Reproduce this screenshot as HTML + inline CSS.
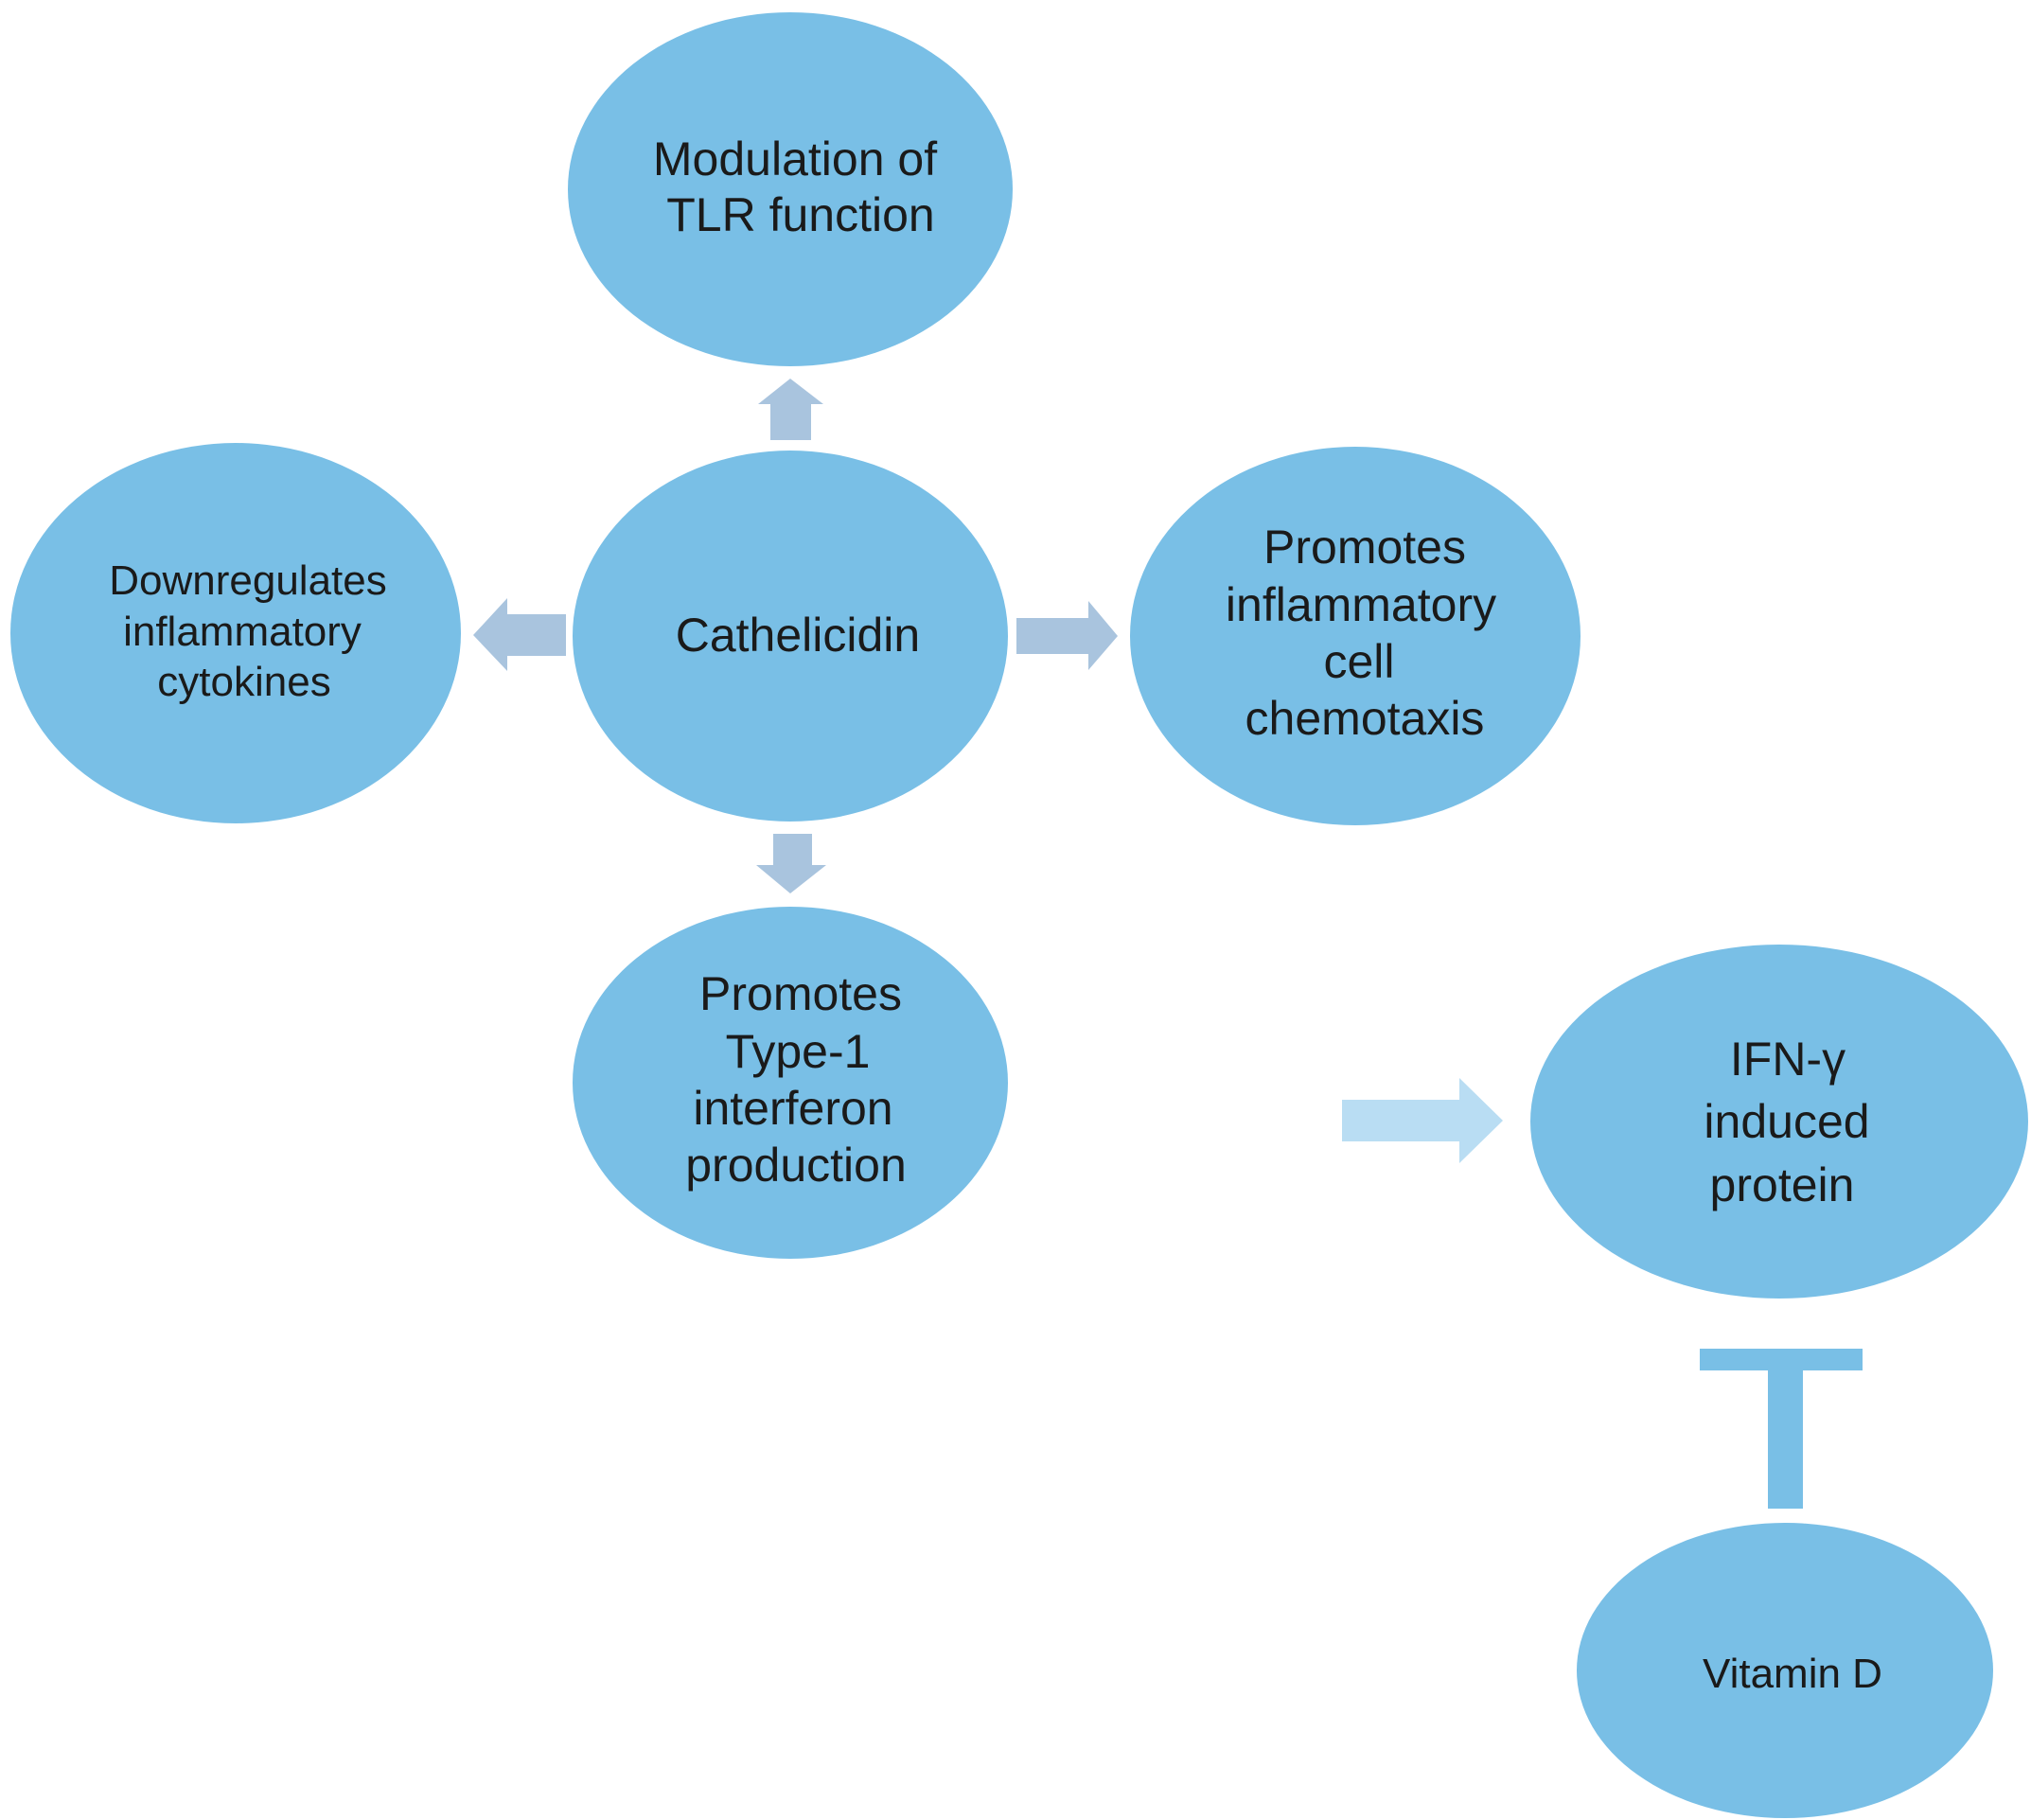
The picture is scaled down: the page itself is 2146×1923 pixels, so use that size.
<!DOCTYPE html>
<html><head><meta charset="utf-8"><style>html,body{margin:0;padding:0;background:#fff}svg{display:block}</style></head>
<body>
<svg width="2146" height="1923" viewBox="0 0 2146 1923" xmlns="http://www.w3.org/2000/svg">
<g fill="#79bfe6">
<ellipse cx="835" cy="200" rx="235" ry="187"/>
<ellipse cx="835" cy="672" rx="230" ry="196"/>
<ellipse cx="249" cy="669" rx="238" ry="201"/>
<ellipse cx="1432" cy="672" rx="238" ry="200"/>
<ellipse cx="835" cy="1144" rx="230" ry="186"/>
<ellipse cx="1880" cy="1185" rx="263" ry="187"/>
<ellipse cx="1886" cy="1765" rx="220" ry="156"/>
<rect x="1796" y="1425" width="172" height="23"/>
<rect x="1868" y="1448" width="37" height="146"/>
</g>
<g fill="#a9c4de">
<polygon points="814,465 857,465 857,427 870,427 835,400 801,427 814,427"/>
<polygon points="598,649 598,693 536,693 536,709 500,671 536,632 536,649"/>
<polygon points="1074,653 1150,653 1150,635 1181,672 1150,708 1150,691 1074,691"/>
<polygon points="817,881 858,881 858,914 873,914 835,944 799,914 817,914"/>
</g>
<polygon fill="#b9ddf3" points="1418,1162 1542,1162 1542,1139 1588,1184 1542,1229 1542,1206 1418,1206"/>
<g font-family="Liberation Sans, sans-serif" fill="#1a1a1a" text-anchor="middle" font-size="50">
<text x="840" y="185">Modulation of</text>
<text x="846" y="244">TLR function</text>
<text x="843" y="688">Cathelicidin</text>
<g font-size="44"><text x="262" y="628">Downregulates</text><text x="256" y="682">inflammatory</text><text x="258" y="735">cytokines</text></g>
<text x="1442" y="595">Promotes</text>
<text x="1438" y="656">inflammatory</text>
<text x="1436" y="716">cell</text>
<text x="1442" y="776">chemotaxis</text>
<text x="846" y="1067">Promotes</text>
<text x="843" y="1128">Type-1</text>
<text x="838" y="1188">interferon</text>
<text x="841" y="1248">production</text>
<text x="1889" y="1136">IFN-γ</text>
<text x="1888" y="1202">induced</text>
<text x="1883" y="1269">protein</text>
<text x="1894" y="1783" font-size="44">Vitamin D</text>
</g>
</svg>
</body></html>
